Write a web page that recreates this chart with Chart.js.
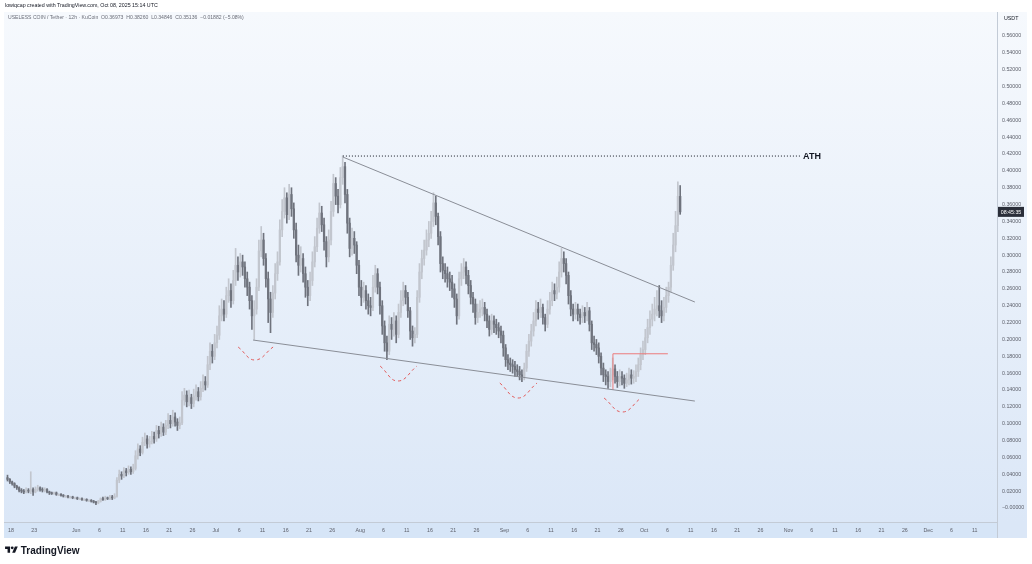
<!DOCTYPE html>
<html>
<head>
<meta charset="utf-8">
<script src="https://cdn.jsdelivr.net/npm/chart.js@4"></script>
<style>
html, body { margin: 0; padding: 0; background: #fff; }
body { width: 1032px; height: 564px; position: relative; overflow: hidden; font-family: "Liberation Sans", Arial, sans-serif; }
#c { position: absolute; left: 0; top: 0; }
.t { position: absolute; white-space: nowrap; line-height: 1; }
</style>
</head>
<body>
<canvas id="c" width="1032" height="564"></canvas>
<div class="t" style="left:5px;top:3px;font-size:5.3px;color:#131722">lowiqcap created with TradingView.com, Oct 08, 2025 15:14 UTC</div>
<div class="t" style="left:8px;top:15px;font-size:5.1px;color:#6a6d78">USELESS COIN / Tether · 12h · KuCoin&nbsp;&nbsp;O0.36973&nbsp;&nbsp;H0.38260&nbsp;&nbsp;L0.34846&nbsp;&nbsp;C0.35136&nbsp;&nbsp;−0.01882 (−5.08%)</div>
<div class="t" style="left:1004px;top:16px;font-size:5.3px;color:#131722">USDT</div>
<div class="t" style="left:5px;top:545px;font-size:10px;font-weight:bold;color:#131722">
  <svg width="13" height="10" viewBox="0 0 36 28" style="vertical-align:-1px"><path d="M14 22H7V11H0V4h14v18z" fill="#131722"/><circle cx="20" cy="8" r="4" fill="#131722"/><path d="M28 22h-8l7.5-18h8z" fill="#131722"/></svg>
  TradingView
</div>
<script>
// 12h candles, first candle centred on May 17 06:00, day 0 = May 18
const firstCandleDay = -0.75;
const candleStep = 0.5;

const opens = [
  0.036,0.034,0.031,0.029,0.026,0.024,0.021,0.020,0.019,0.021,
  0.020,0.022,0.019,0.022,0.024,0.022,0.021,0.022,0.019,0.018,
  0.017,0.018,0.016,0.016,0.015,0.014,0.014,0.013,0.013,0.012,
  0.012,0.011,0.011,0.010,0.010,0.009,0.009,0.008,0.007,0.006,
  0.008,0.011,0.010,0.012,0.011,0.013,0.012,0.014,0.033,0.040,
  0.038,0.044,0.042,0.046,0.043,0.047,0.062,0.070,0.066,0.078,
  0.082,0.076,0.079,0.085,0.082,0.092,0.088,0.096,0.090,0.098,
  0.104,0.100,0.108,0.102,0.098,0.101,0.128,0.134,0.126,0.131,
  0.124,0.133,0.138,0.132,0.142,0.150,0.146,0.170,0.186,0.180,
  0.196,0.205,0.228,0.236,0.230,0.252,0.258,0.246,0.270,0.288,
  0.280,0.292,0.286,0.272,0.262,0.246,0.228,0.236,0.262,0.305,
  0.318,0.296,0.272,0.248,0.232,0.255,0.278,0.292,0.330,0.352,
  0.368,0.348,0.372,0.355,0.330,0.300,0.288,0.296,0.278,0.262,
  0.252,0.270,0.292,0.310,0.332,0.350,0.336,0.316,0.298,0.318,
  0.352,0.385,0.370,0.360,0.392,0.405,0.372,0.338,0.308,0.320,
  0.312,0.288,0.262,0.250,0.258,0.246,0.240,0.238,0.262,0.278,
  0.262,0.240,0.216,0.196,0.186,0.218,0.212,0.222,0.206,0.232,
  0.246,0.258,0.250,0.234,0.210,0.202,0.206,0.250,0.280,0.296,
  0.306,0.318,0.326,0.340,0.362,0.346,0.322,0.290,0.282,0.278,
  0.272,0.268,0.260,0.248,0.228,0.272,0.280,0.286,0.276,0.264,
  0.250,0.242,0.226,0.232,0.236,0.238,0.230,0.222,0.212,0.222,
  0.218,0.214,0.210,0.205,0.190,0.176,0.172,0.170,0.168,0.164,
  0.162,0.158,0.156,0.166,0.186,0.198,0.210,0.222,0.236,0.232,
  0.238,0.226,0.218,0.236,0.246,0.258,0.254,0.262,0.280,0.296,
  0.290,0.276,0.252,0.236,0.230,0.236,0.230,0.226,0.232,0.228,
  0.234,0.218,0.196,0.194,0.190,0.180,0.166,0.158,0.156,0.150,
  0.158,0.165,0.156,0.150,0.156,0.154,0.148,0.152,0.158,0.154,
  0.156,0.162,0.170,0.182,0.188,0.202,0.214,0.224,0.230,0.236,
  0.240,0.234,0.228,0.238,0.252,0.262,0.288,0.312,0.335,0.36973
];
const highs = [
  0.039,0.035,0.032,0.030,0.027,0.025,0.023,0.022,0.024,0.023,
  0.043,0.024,0.025,0.027,0.025,0.024,0.024,0.023,0.020,0.019,
  0.019,0.019,0.017,0.017,0.016,0.015,0.015,0.014,0.014,0.013,
  0.013,0.012,0.012,0.011,0.011,0.010,0.010,0.009,0.008,0.009,
  0.012,0.013,0.014,0.013,0.015,0.015,0.017,0.036,0.045,0.043,
  0.048,0.047,0.050,0.049,0.052,0.068,0.076,0.074,0.084,0.089,
  0.086,0.085,0.091,0.090,0.098,0.097,0.102,0.100,0.104,0.112,
  0.110,0.116,0.113,0.106,0.108,0.138,0.142,0.139,0.140,0.135,
  0.141,0.146,0.143,0.150,0.158,0.156,0.180,0.196,0.194,0.206,
  0.216,0.240,0.248,0.246,0.262,0.272,0.266,0.282,0.308,0.298,
  0.302,0.300,0.292,0.280,0.268,0.252,0.246,0.272,0.318,0.334,
  0.326,0.302,0.280,0.256,0.264,0.290,0.304,0.342,0.366,0.380,
  0.374,0.384,0.380,0.362,0.338,0.312,0.310,0.302,0.286,0.270,
  0.280,0.304,0.322,0.344,0.362,0.358,0.344,0.322,0.330,0.364,
  0.396,0.392,0.378,0.404,0.418,0.410,0.378,0.344,0.332,0.328,
  0.316,0.294,0.270,0.268,0.264,0.254,0.250,0.276,0.288,0.284,
  0.268,0.246,0.222,0.204,0.228,0.226,0.232,0.228,0.242,0.258,
  0.268,0.264,0.256,0.238,0.216,0.214,0.258,0.290,0.306,0.318,
  0.330,0.340,0.352,0.374,0.370,0.350,0.328,0.298,0.290,0.286,
  0.280,0.276,0.266,0.254,0.280,0.290,0.296,0.292,0.282,0.270,
  0.256,0.248,0.242,0.246,0.248,0.244,0.236,0.228,0.230,0.228,
  0.224,0.220,0.216,0.210,0.194,0.182,0.178,0.176,0.174,0.170,
  0.168,0.164,0.172,0.194,0.206,0.218,0.232,0.246,0.244,0.248,
  0.242,0.230,0.246,0.256,0.268,0.266,0.274,0.292,0.308,0.304,
  0.296,0.280,0.258,0.242,0.244,0.242,0.236,0.240,0.238,0.244,
  0.238,0.222,0.204,0.200,0.196,0.184,0.172,0.164,0.162,0.166,
  0.178,0.170,0.162,0.164,0.162,0.158,0.160,0.166,0.164,0.163,
  0.170,0.178,0.190,0.198,0.212,0.224,0.234,0.242,0.250,0.258,
  0.264,0.246,0.250,0.262,0.268,0.298,0.326,0.352,0.387,0.3826
];
const lows = [
  0.032,0.029,0.027,0.024,0.022,0.019,0.018,0.017,0.018,0.018,
  0.017,0.015,0.018,0.020,0.020,0.019,0.019,0.018,0.016,0.016,
  0.016,0.015,0.015,0.014,0.013,0.013,0.012,0.012,0.011,0.011,
  0.010,0.010,0.009,0.009,0.008,0.008,0.007,0.006,0.004,0.005,
  0.007,0.009,0.009,0.010,0.010,0.010,0.011,0.013,0.030,0.034,
  0.036,0.038,0.040,0.040,0.041,0.045,0.058,0.062,0.064,0.074,
  0.071,0.072,0.076,0.077,0.079,0.083,0.085,0.086,0.087,0.094,
  0.095,0.097,0.097,0.092,0.094,0.099,0.122,0.120,0.121,0.118,
  0.120,0.128,0.127,0.128,0.138,0.140,0.143,0.164,0.172,0.176,
  0.190,0.200,0.222,0.222,0.226,0.244,0.238,0.242,0.264,0.270,
  0.274,0.276,0.262,0.252,0.236,0.212,0.200,0.230,0.258,0.298,
  0.288,0.262,0.220,0.208,0.226,0.248,0.270,0.288,0.322,0.344,
  0.338,0.342,0.346,0.320,0.292,0.276,0.280,0.268,0.250,0.240,
  0.246,0.264,0.286,0.304,0.326,0.328,0.306,0.286,0.292,0.312,
  0.346,0.360,0.350,0.356,0.384,0.362,0.326,0.298,0.300,0.302,
  0.278,0.252,0.240,0.244,0.236,0.230,0.228,0.234,0.256,0.254,
  0.230,0.206,0.186,0.176,0.182,0.200,0.204,0.196,0.202,0.226,
  0.240,0.242,0.226,0.200,0.192,0.196,0.202,0.244,0.272,0.288,
  0.300,0.310,0.320,0.334,0.336,0.312,0.280,0.272,0.268,0.262,
  0.258,0.250,0.238,0.218,0.224,0.264,0.272,0.266,0.254,0.242,
  0.232,0.218,0.220,0.226,0.228,0.222,0.214,0.204,0.206,0.208,
  0.206,0.202,0.196,0.180,0.168,0.164,0.162,0.160,0.156,0.156,
  0.152,0.150,0.152,0.162,0.180,0.192,0.204,0.216,0.224,0.226,
  0.218,0.210,0.214,0.230,0.240,0.246,0.248,0.256,0.274,0.280,
  0.266,0.242,0.228,0.222,0.224,0.222,0.218,0.220,0.220,0.222,
  0.210,0.188,0.186,0.182,0.172,0.158,0.150,0.146,0.142,0.144,
  0.152,0.148,0.143,0.145,0.146,0.142,0.144,0.146,0.147,0.148,
  0.150,0.156,0.164,0.176,0.182,0.196,0.206,0.216,0.222,0.228,
  0.226,0.220,0.222,0.232,0.244,0.256,0.282,0.304,0.328,0.34846
];
const closes = [
  0.034,0.031,0.029,0.026,0.024,0.021,0.020,0.019,0.021,0.020,
  0.022,0.019,0.022,0.024,0.022,0.021,0.022,0.019,0.018,0.017,
  0.018,0.016,0.016,0.015,0.014,0.014,0.013,0.013,0.012,0.012,
  0.011,0.011,0.010,0.010,0.009,0.009,0.008,0.007,0.006,0.008,
  0.011,0.010,0.012,0.011,0.013,0.012,0.014,0.033,0.040,0.038,
  0.044,0.042,0.046,0.043,0.047,0.062,0.070,0.066,0.078,0.082,
  0.076,0.079,0.085,0.082,0.092,0.088,0.096,0.090,0.098,0.104,
  0.100,0.108,0.102,0.098,0.101,0.128,0.134,0.126,0.131,0.124,
  0.133,0.138,0.132,0.142,0.150,0.146,0.170,0.186,0.180,0.196,
  0.205,0.228,0.236,0.230,0.252,0.258,0.246,0.270,0.288,0.280,
  0.292,0.286,0.272,0.262,0.246,0.228,0.236,0.262,0.305,0.318,
  0.296,0.272,0.248,0.232,0.255,0.278,0.292,0.330,0.352,0.368,
  0.348,0.372,0.355,0.330,0.300,0.288,0.296,0.278,0.262,0.252,
  0.270,0.292,0.310,0.332,0.350,0.336,0.316,0.298,0.318,0.352,
  0.385,0.370,0.360,0.392,0.405,0.372,0.338,0.308,0.320,0.312,
  0.288,0.262,0.250,0.258,0.246,0.240,0.238,0.262,0.278,0.262,
  0.240,0.216,0.196,0.186,0.218,0.212,0.222,0.206,0.232,0.246,
  0.258,0.250,0.234,0.210,0.202,0.206,0.250,0.280,0.296,0.306,
  0.318,0.326,0.340,0.362,0.346,0.322,0.290,0.282,0.278,0.272,
  0.268,0.260,0.248,0.228,0.272,0.280,0.286,0.276,0.264,0.250,
  0.242,0.226,0.232,0.236,0.238,0.230,0.222,0.212,0.222,0.218,
  0.214,0.210,0.205,0.190,0.176,0.172,0.170,0.168,0.164,0.162,
  0.158,0.156,0.166,0.186,0.198,0.210,0.222,0.236,0.232,0.238,
  0.226,0.218,0.236,0.246,0.258,0.254,0.262,0.280,0.296,0.290,
  0.276,0.252,0.236,0.230,0.236,0.230,0.226,0.232,0.228,0.234,
  0.218,0.196,0.194,0.190,0.180,0.166,0.158,0.156,0.150,0.158,
  0.165,0.156,0.150,0.156,0.154,0.148,0.152,0.158,0.154,0.156,
  0.162,0.170,0.182,0.188,0.202,0.214,0.224,0.230,0.236,0.240,
  0.234,0.228,0.238,0.252,0.262,0.288,0.312,0.335,0.36973,0.35136
];

// x axis: day offsets from May 18
const xTickDays = [0,5,14,19,24,29,34,39,44,49,54,59,64,69,75,80,85,90,95,100,106,111,116,121,126,131,136,141,146,151,156,161,167,172,177,182,187,192,197,202,207];
const xTickLabels = ["18","23","Jun","6","11","16","21","26","Jul","6","11","16","21","26","Aug","6","11","16","21","26","Sep","6","11","16","21","26","Oct","6","11","16","21","26","Nov","6","11","16","21","26","Dec","6","11"];
const yTickValues = [0,0.02,0.04,0.06,0.08,0.10,0.12,0.14,0.16,0.18,0.20,0.22,0.24,0.26,0.28,0.30,0.32,0.34,0.36,0.38,0.40,0.42,0.44,0.46,0.48,0.50,0.52,0.54,0.56];

// drawings (day, price)
const upperTrend = [{x:71.3,y:0.4164},{x:146.9,y:0.2444}];
const lowerTrend = [{x:52.0,y:0.1993},{x:146.9,y:0.1269}];
const athLine = [{x:71.3,y:0.4176},{x:169.5,y:0.4176}];
const breakLevel = [{x:129.3,y:0.140},{x:129.3,y:0.183},{x:141.1,y:0.183}];
const arc1 = [{x:48.8,y:0.191},{x:52.4,y:0.1756},{x:56.3,y:0.191}];
const arc2 = [{x:79.3,y:0.1684},{x:83.1,y:0.1507},{x:87.2,y:0.1684}];
const arc3 = [{x:105.0,y:0.1483},{x:108.9,y:0.1305},{x:113.0,y:0.1483}];
const arc4 = [{x:127.4,y:0.1305},{x:131.3,y:0.1139},{x:135.3,y:0.1305}];
const countdown = "08:45:35";

const upColor = "#c2c6ce";
const downColor = "#6f737d";
const candleDays = closes.map((c, i) => firstCandleDay + i * candleStep);
const candleColors = closes.map((c, i) => (c >= opens[i] ? upColor : downColor));

Chart.defaults.font.family = "'Liberation Sans', Arial, sans-serif";

const bgPlugin = {
  id: "bg",
  beforeDraw(chart) {
    const ctx = chart.ctx;
    const a = chart.chartArea;
    ctx.save();
    const g = ctx.createLinearGradient(0, a.top, 0, a.bottom);
    g.addColorStop(0, "#f6f9fd");
    g.addColorStop(1, "#dbe7f7");
    ctx.fillStyle = g;
    ctx.fillRect(a.left, a.top, 1027 - a.left, a.bottom - a.top);
    ctx.fillStyle = "#d6e5f7";
    ctx.fillRect(a.left, a.bottom, a.right - a.left, 16);
    ctx.fillStyle = "#dbe7f7";
    ctx.fillRect(a.right, a.bottom, 1027 - a.right, 16);
    ctx.strokeStyle = "#c3cbd6";
    ctx.lineWidth = 1;
    ctx.beginPath();
    ctx.moveTo(a.left, a.bottom + 0.5);
    ctx.lineTo(a.right, a.bottom + 0.5);
    ctx.moveTo(a.right + 0.5, a.top);
    ctx.lineTo(a.right + 0.5, a.bottom + 16);
    ctx.stroke();
    ctx.restore();
  },
  afterDraw(chart) {
    const ctx = chart.ctx;
    const x = chart.scales.x, y = chart.scales.y;
    ctx.save();
    // ATH label
    ctx.fillStyle = "#131722";
    ctx.font = "bold 9px 'Liberation Sans', Arial, sans-serif";
    ctx.textBaseline = "middle";
    ctx.fillText("ATH", x.getPixelForValue(athLine[1].x) + 3, y.getPixelForValue(athLine[1].y) + 0.5);
    // last price / countdown tag
    const py = y.getPixelForValue(closes[closes.length - 1]);
    ctx.fillStyle = "#2a2e39";
    ctx.fillRect(chart.chartArea.right + 1, py - 5, 26, 10);
    ctx.fillStyle = "#ffffff";
    ctx.font = "5.3px 'Liberation Sans', Arial, sans-serif";
    ctx.textAlign = "center";
    ctx.fillText(countdown, chart.chartArea.right + 14, py + 0.5);
    ctx.restore();
  }
};

const lineBase = { type: "line", pointRadius: 0, borderWidth: 1, fill: false, order: 0 };

new Chart(document.getElementById("c"), {
  type: "bar",
  data: {
    datasets: [
      Object.assign({}, lineBase, { data: upperTrend, borderColor: "#8a8e97" }),
      Object.assign({}, lineBase, { data: lowerTrend, borderColor: "#8a8e97" }),
      Object.assign({}, lineBase, { data: athLine, borderColor: "#131722", borderDash: [1, 2] }),
      Object.assign({}, lineBase, { data: breakLevel, borderColor: "#ec7b7b" }),
      Object.assign({}, lineBase, { data: arc1, borderColor: "#e25c5c", borderDash: [3, 3], tension: 0.45 }),
      Object.assign({}, lineBase, { data: arc2, borderColor: "#e25c5c", borderDash: [3, 3], tension: 0.45 }),
      Object.assign({}, lineBase, { data: arc3, borderColor: "#e25c5c", borderDash: [3, 3], tension: 0.45 }),
      Object.assign({}, lineBase, { data: arc4, borderColor: "#e25c5c", borderDash: [3, 3], tension: 0.45 }),
      {
        data: candleDays.map((d, i) => ({ x: d, y: [opens[i], closes[i]] })),
        backgroundColor: candleColors,
        barThickness: 1.6,
        minBarLength: 1,
        grouped: false,
        order: 1
      },
      {
        data: candleDays.map((d, i) => ({ x: d, y: [lows[i], highs[i]] })),
        backgroundColor: candleColors,
        barThickness: 1,
        grouped: false,
        order: 2
      }
    ]
  },
  options: {
    responsive: false,
    animation: false,
    devicePixelRatio: 1,
    layout: { padding: { left: 4, top: 12, right: 5, bottom: 26 } },
    plugins: { legend: { display: false }, tooltip: { enabled: false } },
    scales: {
      x: {
        type: "linear",
        offset: false,
        min: -1.5,
        max: 211.8,
        grid: { display: false, drawTicks: false },
        border: { display: false },
        afterBuildTicks: (scale) => { scale.ticks = xTickDays.map((v) => ({ value: v })); },
        afterFit: (scale) => { scale.height = 16; },
        ticks: {
          autoSkip: false,
          maxRotation: 0,
          minRotation: 0,
          padding: 5,
          color: "#5d606b",
          font: { size: 5.3 },
          callback: (value, index) => xTickLabels[index]
        }
      },
      y: {
        position: "right",
        min: -0.0166,
        max: 0.5885,
        grid: { display: false, drawTicks: false },
        border: { display: false },
        afterBuildTicks: (scale) => { scale.ticks = yTickValues.map((v) => ({ value: v })); },
        afterFit: (scale) => { scale.width = 30; },
        ticks: {
          padding: 5,
          color: "#5d606b",
          font: { size: 5.3 },
          callback: (value) => (value === 0 ? "−0.00000" : value.toFixed(5))
        }
      }
    }
  },
  plugins: [bgPlugin]
});
</script>
</body>
</html>
